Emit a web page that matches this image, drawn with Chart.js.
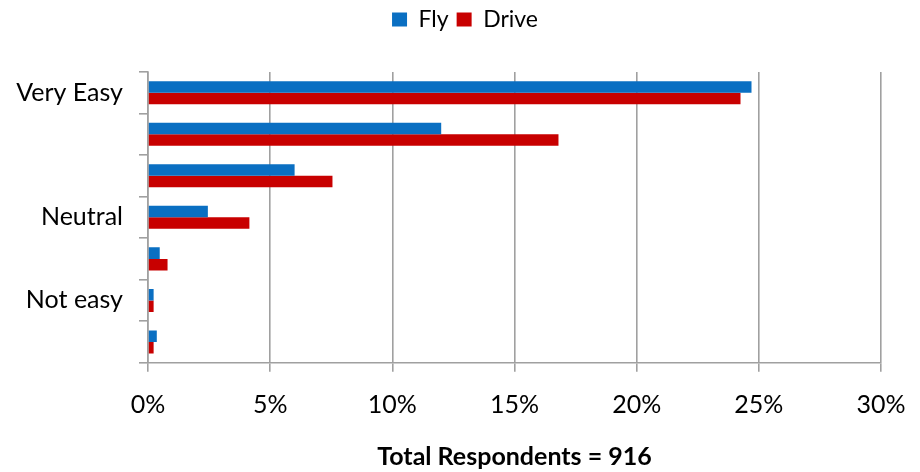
<!DOCTYPE html>
<html>
<head>
<meta charset="utf-8">
<script src="https://cdn.jsdelivr.net/npm/chart.js@4"></script>
<style>
  html, body { margin: 0; padding: 0; background: #ffffff; }
  #wrap { width: 920px; height: 472px; }
</style>
</head>
<body>
<div id="wrap"><canvas id="c" width="920" height="472"></canvas></div>
<script>
const categories = ['Very Easy', '', '', 'Neutral', '', 'Not easy', ''];
const flyValues = [24.7, 12.0, 6.0, 2.45, 0.48, 0.23, 0.36];
const driveValues = [24.25, 16.8, 7.55, 4.15, 0.8, 0.23, 0.23];
const xTickValues = [0, 5, 10, 15, 20, 25, 30];
const seriesNames = ['Fly', 'Drive'];
const axisTitle = 'Total Respondents = 916';

const FONT = 'Lato';
const GRID = '#a0a0a0';

const legendHeight = {
  id: 'legendHeight',
  beforeInit(chart) {
    const fit = chart.legend.fit;
    chart.legend.fit = function () {
      fit.call(this);
      this.height = 72;
    };
  }
};

new Chart(document.getElementById('c'), {
  type: 'bar',
  data: {
    labels: categories,
    datasets: [
      { label: seriesNames[0], data: flyValues, backgroundColor: '#0a6fc2',
        categoryPercentage: 0.555, barPercentage: 1.0 },
      { label: seriesNames[1], data: driveValues, backgroundColor: '#c80000',
        categoryPercentage: 0.555, barPercentage: 1.0 }
    ]
  },
  options: {
    indexAxis: 'y',
    responsive: false,
    animation: false,
    devicePixelRatio: 1,
    layout: { padding: { left: 10, right: 0, top: 0, bottom: 0 } },
    plugins: {
      legend: {
        position: 'top',
        labels: {
          font: { family: FONT, size: 23 },
          color: '#000',
          boxWidth: 15,
          boxHeight: 14,
          padding: 8
        }
      },
      tooltip: { enabled: false }
    },
    scales: {
      x: {
        type: 'linear',
        min: 0,
        max: 30,
        afterBuildTicks(scale) {
          scale.ticks = xTickValues.map(v => ({ value: v }));
        },
        afterFit(scale) { scale.height = 109.3; scale.paddingRight = 39; },
        ticks: {
          callback: v => v + '%',
          font: { family: FONT, size: 25 },
          color: '#000',
          padding: 18,
          maxRotation: 0
        },
        grid: { color: GRID, lineWidth: 1.6, tickLength: 9, drawTicks: true },
        border: { color: GRID, width: 1.6 },
        title: {
          display: true,
          text: axisTitle,
          font: { family: FONT, size: 25, weight: 'bold' },
          color: '#000',
          padding: { top: 0, bottom: 0 }
        }
      },
      y: {
        type: 'category',
        offset: true,
        afterFit(scale) { scale.width = 138; },
        ticks: {
          font: { family: FONT, size: 25 },
          color: '#000',
          padding: 16,
          autoSkip: false
        },
        grid: { offset: true, drawOnChartArea: false, drawTicks: true, tickLength: 9, color: GRID, lineWidth: 1.6 },
        border: { color: GRID, width: 1.6 }
      }
    }
  },
  plugins: [legendHeight]
});
</script>
</body>
</html>
